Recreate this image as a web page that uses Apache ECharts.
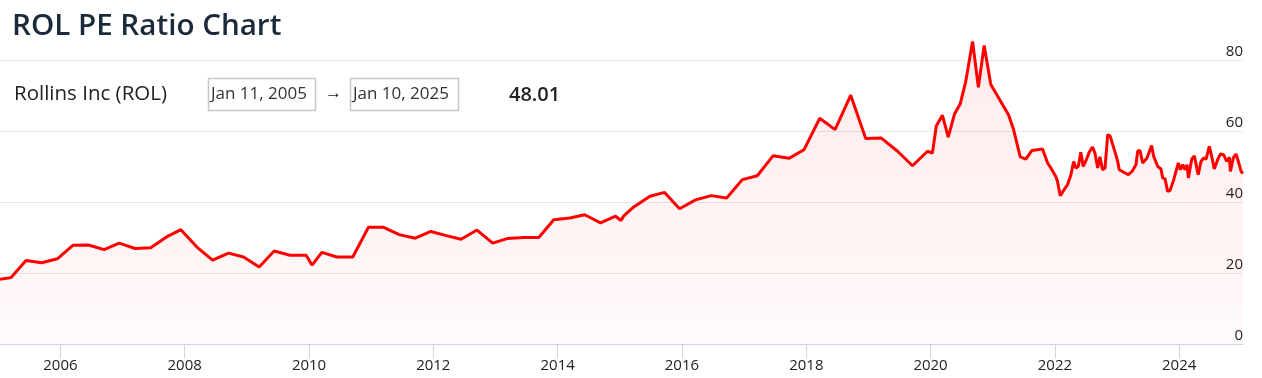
<!DOCTYPE html>
<html><head><meta charset="utf-8">
<script src="https://cdn.jsdelivr.net/npm/echarts@6/dist/echarts.min.js"></script>
<style>html,body{margin:0;padding:0;background:#fff}#c{width:1262px;height:378px}</style>
</head><body><div id="c"></div>
<script>
const dates = [
'2005-01-11','2005-03-17','2005-06-13','2005-09-13','2005-12-14',
'2006-03-15','2006-06-14','2006-09-15','2006-12-12',
'2007-03-16','2007-06-16','2007-09-14','2007-12-10',
'2008-03-13','2008-06-13','2008-09-15','2008-12-12',
'2009-03-14','2009-06-10','2009-09-11','2009-12-15',
'2010-01-19','2010-03-17','2010-06-13','2010-09-15','2010-12-16',
'2011-03-12','2011-06-15','2011-09-17','2011-12-18',
'2012-03-12','2012-06-12','2012-09-14','2012-12-15',
'2013-03-10','2013-06-16','2013-09-12','2013-12-09',
'2014-03-13','2014-06-09','2014-09-10','2014-12-07',
'2015-01-08','2015-01-23','2015-03-24','2015-06-27','2015-09-21','2015-12-18',
'2016-03-21','2016-06-22','2016-09-20','2016-12-21',
'2017-03-19','2017-06-19','2017-09-21','2017-12-18',
'2018-03-21','2018-06-19','2018-09-19','2018-12-16',
'2019-03-18','2019-06-21','2019-09-17','2019-12-14',
'2020-01-12','2020-02-04','2020-03-11','2020-04-14','2020-05-21','2020-06-23','2020-07-26','2020-09-04','2020-10-08','2020-11-11','2020-12-20',
'2021-04-03','2021-05-03','2021-06-11','2021-07-14','2021-08-18','2021-10-20','2021-11-19','2021-12-08',
'2022-01-06','2022-01-16','2022-02-01','2022-02-24','2022-03-16','2022-04-05','2022-04-21','2022-05-04','2022-05-18','2022-06-02','2022-06-16','2022-07-06','2022-07-21','2022-08-10','2022-08-24','2022-09-09','2022-09-22','2022-10-08','2022-10-22','2022-11-07','2022-11-22','2022-12-16',
'2023-01-05','2023-01-14','2023-02-12','2023-02-22','2023-03-08','2023-03-30','2023-04-22','2023-05-02','2023-05-16','2023-05-31','2023-06-26','2023-07-23','2023-08-04','2023-08-28','2023-09-16','2023-09-26','2023-10-10','2023-10-25','2023-11-08','2023-11-30','2023-12-27',
'2024-01-08','2024-01-22','2024-02-04','2024-02-16','2024-02-24','2024-03-15','2024-03-30','2024-04-22','2024-05-08','2024-05-24','2024-06-07','2024-06-26','2024-07-10','2024-07-25','2024-08-14','2024-08-30','2024-09-19','2024-10-06','2024-10-22','2024-10-28','2024-11-14','2024-11-30','2024-12-14','2024-12-30',
'2025-01-10'
];
const peValues = [
18.25,18.7,23.5,22.9,24.0,
27.8,27.9,26.6,28.4,
26.9,27.1,30.1,32.2,
27.3,23.6,25.6,24.5,
21.7,26.2,25.0,25.0,
22.2,25.8,24.5,24.5,32.9,
32.9,30.8,29.8,31.7,
30.6,29.5,32.1,28.4,
29.7,30.0,30.0,35.0,
35.5,36.4,34.1,36.0,
34.8,36.0,38.6,41.6,42.7,38.1,
40.6,41.8,41.1,46.3,
47.4,53.0,52.3,54.7,
63.6,60.4,70.1,57.9,
58.0,54.3,50.2,54.3,
53.8,61.5,64.4,58.3,64.8,67.6,74.0,85.2,72.3,84.1,73.1,
64.6,60.4,52.7,52.1,54.5,54.9,51.0,49.6,
47.2,45.8,41.8,43.5,44.9,47.7,51.4,49.6,50.0,54.0,50.0,52.1,54.0,55.5,53.8,49.6,52.7,49.1,49.5,59.0,58.5,54.7,
51.4,49.1,48.3,48.8,47.7,48.6,50.5,54.3,54.5,51.0,52.4,55.9,52.9,50.0,49.3,46.8,46.5,43.0,43.2,46.3,51.0,
49.1,50.5,49.1,50.5,46.8,52.1,53.0,47.7,51.4,52.4,52.1,55.7,52.9,49.3,51.9,53.5,53.3,51.4,52.6,48.6,52.4,53.5,51.4,48.6,
48.01
];
const xTickYears = [2006,2008,2010,2012,2014,2016,2018,2020,2022,2024];
const yTickValues = [0,20,40,60,80];
const titleText = 'ROL PE Ratio Chart';
const companyText = 'Rollins Inc (ROL)';
const startText = 'Jan 11, 2005';
const endText = 'Jan 10, 2025';
const lastValueText = '48.01';

const FONT = '"Open Sans", "Noto Sans", sans-serif';
const toTs = s => { const p = s.split('-').map(Number); return Date.UTC(p[0], p[1]-1, p[2]); };
const seriesData = dates.map((d, i) => [toTs(d), peValues[i]]);
const yearTs = xTickYears.map(y => Date.UTC(y, 0, 1));

const chart = echarts.init(document.getElementById('c'), null, {renderer: 'canvas'});
chart.setOption({
  animation: false,
  backgroundColor: '#fff',
  grid: {left: 0, right: 19, top: 60, bottom: 34, containLabel: false},
  xAxis: {
    type: 'value',
    min: toTs(dates[0]),
    max: toTs(dates[dates.length - 1]),
    axisLine: {show: true, onZero: false, lineStyle: {color: '#ccd6eb', width: 1}},
    axisTick: {show: true, length: 14, lineStyle: {color: '#ccd6eb'}, customValues: yearTs},
    axisLabel: {customValues: yearTs, formatter: v => String(new Date(v).getUTCFullYear()),
      color: '#222', fontSize: 15, fontFamily: FONT, margin: 14},
    splitLine: {show: false}
  },
  yAxis: {
    type: 'value', position: 'right', min: yTickValues[0], max: yTickValues[yTickValues.length - 1], interval: 20,
    axisLine: {show: false}, axisTick: {show: false},
    axisLabel: {inside: true, margin: 0, align: 'right', verticalAlign: 'bottom', padding: [0, 0, 1, 0],
      color: '#222', fontSize: 15, fontFamily: FONT},
    splitLine: {lineStyle: {color: '#e6e6e6', width: 1}}
  },
  series: [{
    type: 'line', data: seriesData, showSymbol: false, clip: false, silent: true,
    lineStyle: {color: '#ff0000', width: 3},
    areaStyle: {color: new echarts.graphic.LinearGradient(0, 0, 0, 1, [
      {offset: 0, color: 'rgba(255,0,0,0.11)'}, {offset: 1, color: 'rgba(255,0,0,0.03)'}])}
  }],
  graphic: [
    {type: 'text', x: 12, y: 27, style: {text: titleText, font: '600 29.6px ' + FONT, fill: '#1b2a3a', verticalAlign: 'middle'}},
    {type: 'text', x: 14, y: 94, style: {text: companyText, font: '20.5px ' + FONT, fill: '#222', verticalAlign: 'middle'}},
    {type: 'rect', shape: {x: 208.5, y: 78.5, width: 107, height: 32}, style: {fill: '#fff', stroke: '#c8c8c8', lineWidth: 1.5}},
    {type: 'text', x: 211, y: 94, style: {text: startText, font: '17px ' + FONT, fill: '#333', verticalAlign: 'middle'}},
    {type: 'text', x: 325, y: 93, style: {text: '→', font: '17px ' + FONT, fill: '#222', verticalAlign: 'middle'}},
    {type: 'rect', shape: {x: 350.5, y: 78.5, width: 108, height: 32}, style: {fill: '#fff', stroke: '#c8c8c8', lineWidth: 1.5}},
    {type: 'text', x: 353, y: 94, style: {text: endText, font: '17px ' + FONT, fill: '#333', verticalAlign: 'middle'}},
    {type: 'text', x: 509, y: 95, style: {text: lastValueText, font: '600 20px ' + FONT, fill: '#222', verticalAlign: 'middle'}}
  ]
});
</script></body></html>
